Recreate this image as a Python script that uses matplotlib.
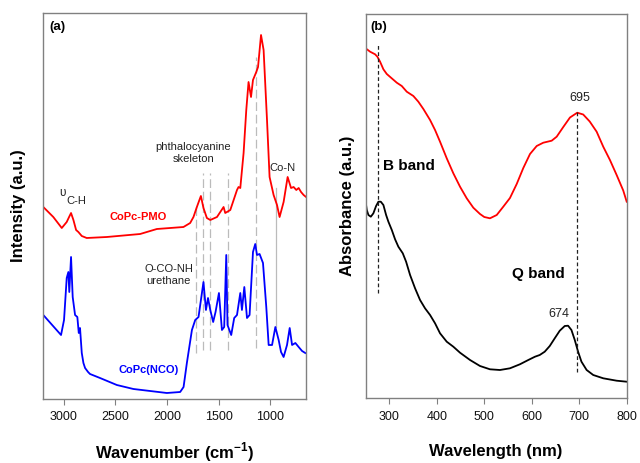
import matplotlib
matplotlib.use("Agg")
import matplotlib.pyplot as plt

plt.rcParams['font.family'] = ['Liberation Sans', 'DejaVu Sans']
plt.rcParams['mathtext.fontset'] = 'custom'
plt.rcParams['mathtext.rm'] = 'Liberation Sans'
plt.rcParams['mathtext.bf'] = 'Liberation Sans:bold'

# ---------------- (a) FTIR data ----------------
pmo_wn = [3200, 3103, 3021, 2973, 2950, 2931, 2908, 2882, 2860, 2827, 2779, 2584, 2261, 2099,
          1841, 1776, 1744, 1711, 1690, 1672, 1647, 1614, 1581, 1516, 1452, 1436, 1387, 1322,
          1307, 1290, 1258, 1232, 1210, 1186, 1167, 1135, 1118, 1089, 1064, 1031, 1006, 967,
          934, 909, 870, 831, 798, 773, 747, 724, 701, 676, 652]
pmo_int = [192, 182, 171, 177, 182, 186, 179, 169, 167, 163, 161, 162, 165, 170,
           172, 176, 182, 192, 198, 203, 191, 181, 179, 182, 192, 186, 189, 209,
           212, 211, 246, 289, 317, 302, 319, 327, 332, 364, 349, 279, 222, 204,
           194, 182, 197, 222, 211, 212, 209, 211, 207, 204, 202]

nco_wn = [3200, 3028, 2999, 2973, 2957, 2948, 2931, 2915, 2892, 2870, 2856, 2844, 2827, 2811,
          2795, 2766, 2747, 2650, 2487, 2326, 2002, 1873, 1840, 1808, 1759, 1727, 1695, 1647,
          1623, 1603, 1581, 1553, 1530, 1497, 1468, 1446, 1426, 1414, 1378, 1349, 1322, 1290,
          1274, 1251, 1225, 1200, 1167, 1145, 1128, 1103, 1070, 1038, 1015, 982, 950, 918, 895,
          870, 837, 811, 788, 756, 724, 691, 660]
nco_int = [84, 64, 79, 121, 127, 107, 142, 102, 84, 82, 66, 71, 46, 36,
           31, 27, 25, 21, 14, 10, 6, 7, 12, 36, 69, 79, 82, 117,
           89, 101, 89, 77, 87, 106, 69, 72, 144, 74, 64, 81, 84, 106,
           89, 112, 81, 84, 147, 155, 144, 145, 136, 92, 54, 54, 72, 59, 47,
           42, 54, 71, 54, 56, 52, 48, 46]

# guide lines for FTIR bands
guide_wn = [1717, 1647, 1588, 1414, 1135, 947]
guide_lo = [46, 49, 49, 49, 51, 72]
guide_hi = [193, 226, 226, 226, 342, 211]

# ---------------- (b) UV-vis data ----------------
pmo_wl = [250, 259.5, 270, 274.8, 280.5, 287.5, 294.6, 305, 315.7, 326.2, 336.7, 350.6, 361.1,
          371.7, 385.8, 396.3, 406.8, 420.9, 434.8, 448.9, 463, 476.9, 491, 500, 512, 526.2, 540,
          554.1, 568.3, 582.2, 596.3, 610.4, 624.3, 642, 652.5, 666.4, 680.5, 695.8, 708.4,
          722.1, 736.7, 750.6, 764.7, 778.8, 792.7, 800]
pmo_abs = [349.7, 346.3, 343.7, 341.3, 336.3, 328.7, 324, 319.7, 315.3, 312, 306.3, 302, 296.3,
           289, 278, 268, 256.3, 239.7, 224.7, 211.3, 199.7, 190.3, 184, 181, 179.7, 183, 191.3,
           200, 214, 230, 244, 252, 255.3, 257.3, 261.3, 271, 280.5, 285.3, 283.5,
           276.5, 266.3, 251.3, 238, 223, 207.5, 196.3]

nco_wl = [250, 252.5, 255.9, 261, 266.4, 272.1, 277, 282, 287.5, 293.2, 298, 305.2, 312.1, 319,
          328.3, 335.3, 343.7, 354.2, 364.7, 375.2, 385.8, 396.3, 406.8, 420.9, 434.8, 448.9,
          470, 491, 512, 533, 554.1, 575, 592.7, 606.8, 616.8, 627.3, 637.9, 648.4, 659, 669.5,
          676.5, 683.6, 690.6, 697.6, 704.7, 715.6, 729.5, 750.6, 778.8, 800]
nco_abs = [196.3, 188, 183, 181.3, 184.7, 192, 196.3, 196.3, 193, 183, 176.3, 168, 158.7, 151.3,
           144.7, 136.3, 123, 109.7, 98, 89.7, 83, 74.7, 64.7, 56.3, 51.3, 45.3,
           38, 32, 28.7, 28, 29.7, 33.7, 38, 41.3, 43, 46.3, 52, 59.7, 67.3, 72,
           72.3, 68, 58, 46.3, 36.3, 28, 23, 19.7, 17.3, 16.3]

wn_ticks = [3000, 2500, 2000, 1500, 1000]
wl_ticks = [300, 400, 500, 600, 700, 800]

W, H = 640, 463
fig = plt.figure(figsize=(W / 100, H / 100), dpi=100)

def frac_axes(x0, y0, x1, y1):
    return fig.add_axes([x0 / W, 1 - y1 / H, (x1 - x0) / W, (y1 - y0) / H])

axa = frac_axes(43.3, 13, 306.3, 399)
axb = frac_axes(365.6, 14, 626.7, 398)

spine_col = '#808080'
txt_col = '#222222'
for ax in (axa, axb):
    for s in ax.spines.values():
        s.set_color(spine_col)
        s.set_linewidth(1.0)
    ax.set_yticks([])
    ax.tick_params(axis='x', direction='out', length=4, width=0.8, color=spine_col,
                   labelsize=9, pad=5, labelcolor='#111111')

# ---- panel a ----
axa.plot(pmo_wn, pmo_int, color='#ff0000', lw=1.3)
axa.plot(nco_wn, nco_int, color='#0000ff', lw=1.3)
for i, (w, lo, hi) in enumerate(zip(guide_wn, guide_lo, guide_hi)):
    ls = '-' if i == len(guide_wn) - 1 else (0, (7, 3))
    axa.plot([w, w], [lo, hi], color='#bbbbbb', lw=0.9, ls=ls, zorder=0)
axa.set_xlim(3200, 650)
axa.set_ylim(0, 386)
axa.set_xticks(wn_ticks)
axa.set_xlabel('Wavenumber (cm$^{\\mathbf{-1}}$)', fontsize=12, fontweight='bold')
axa.xaxis.set_label_coords(0.5, -0.137)
axa.xaxis.label.set_va('center')
axa.set_ylabel('Intensity (a.u.)', fontsize=12, fontweight='bold')
axa.yaxis.set_label_coords(-0.096, 0.5)
axa.yaxis.label.set_va('center')

axa.text(3142, 372, '(a)', fontsize=9.5, fontweight='bold', ha='left', va='center')
axa.text(3010, 206, 'υ', fontsize=8.5, color=txt_col, ha='center', va='center')
axa.text(2880, 198, 'C-H', fontsize=8, color=txt_col, ha='center', va='center')
axa.text(2276, 182, 'CoPc-PMO', fontsize=8, fontweight='bold', color='#ff0000', ha='center', va='center')
axa.text(1746, 246, 'phthalocyanine\nskeleton', fontsize=8, color=txt_col, ha='center', va='center',
         linespacing=1.15)
axa.text(880, 231, 'Co-N', fontsize=8, color=txt_col, ha='center', va='center')
axa.text(1984, 124, 'O-CO-NH\nurethane', fontsize=8, color=txt_col, ha='center', va='center',
         linespacing=1.15)
axa.text(2183, 29, 'CoPc(NCO)', fontsize=8, fontweight='bold', color='#0000ff', ha='center', va='center')

# ---- panel b ----
axb.plot(pmo_wl, pmo_abs, color='#ff0000', lw=1.3)
axb.plot(nco_wl, nco_abs, color='#000000', lw=1.3)
axb.plot([277, 277], [105, 353], color='#222222', lw=0.9, ls=(0, (3, 2)))
axb.plot([695, 695], [26, 286], color='#222222', lw=0.9, ls=(0, (3, 2)))
axb.set_xlim(250, 800)
axb.set_ylim(0, 384)
axb.set_xticks(wl_ticks)
axb.set_xlabel('Wavelength (nm)', fontsize=12, fontweight='bold')
axb.xaxis.set_label_coords(0.5, -0.14)
axb.xaxis.label.set_va('center')
axb.set_ylabel('Absorbance (a.u.)', fontsize=12, fontweight='bold')
axb.yaxis.set_label_coords(-0.071, 0.5)
axb.yaxis.label.set_va('center')

axb.text(259.5, 371, '(b)', fontsize=9.5, fontweight='bold', ha='left', va='center')
axb.text(287, 232, 'B band', fontsize=11, fontweight='bold', ha='left', va='center')
axb.text(701, 300, '695', fontsize=9, color=txt_col, ha='center', va='center')
axb.text(614, 124, 'Q band', fontsize=11, fontweight='bold', ha='center', va='center')
axb.text(657, 84, '674', fontsize=9, color=txt_col, ha='center', va='center')

fig.savefig('out.png', dpi=100)
